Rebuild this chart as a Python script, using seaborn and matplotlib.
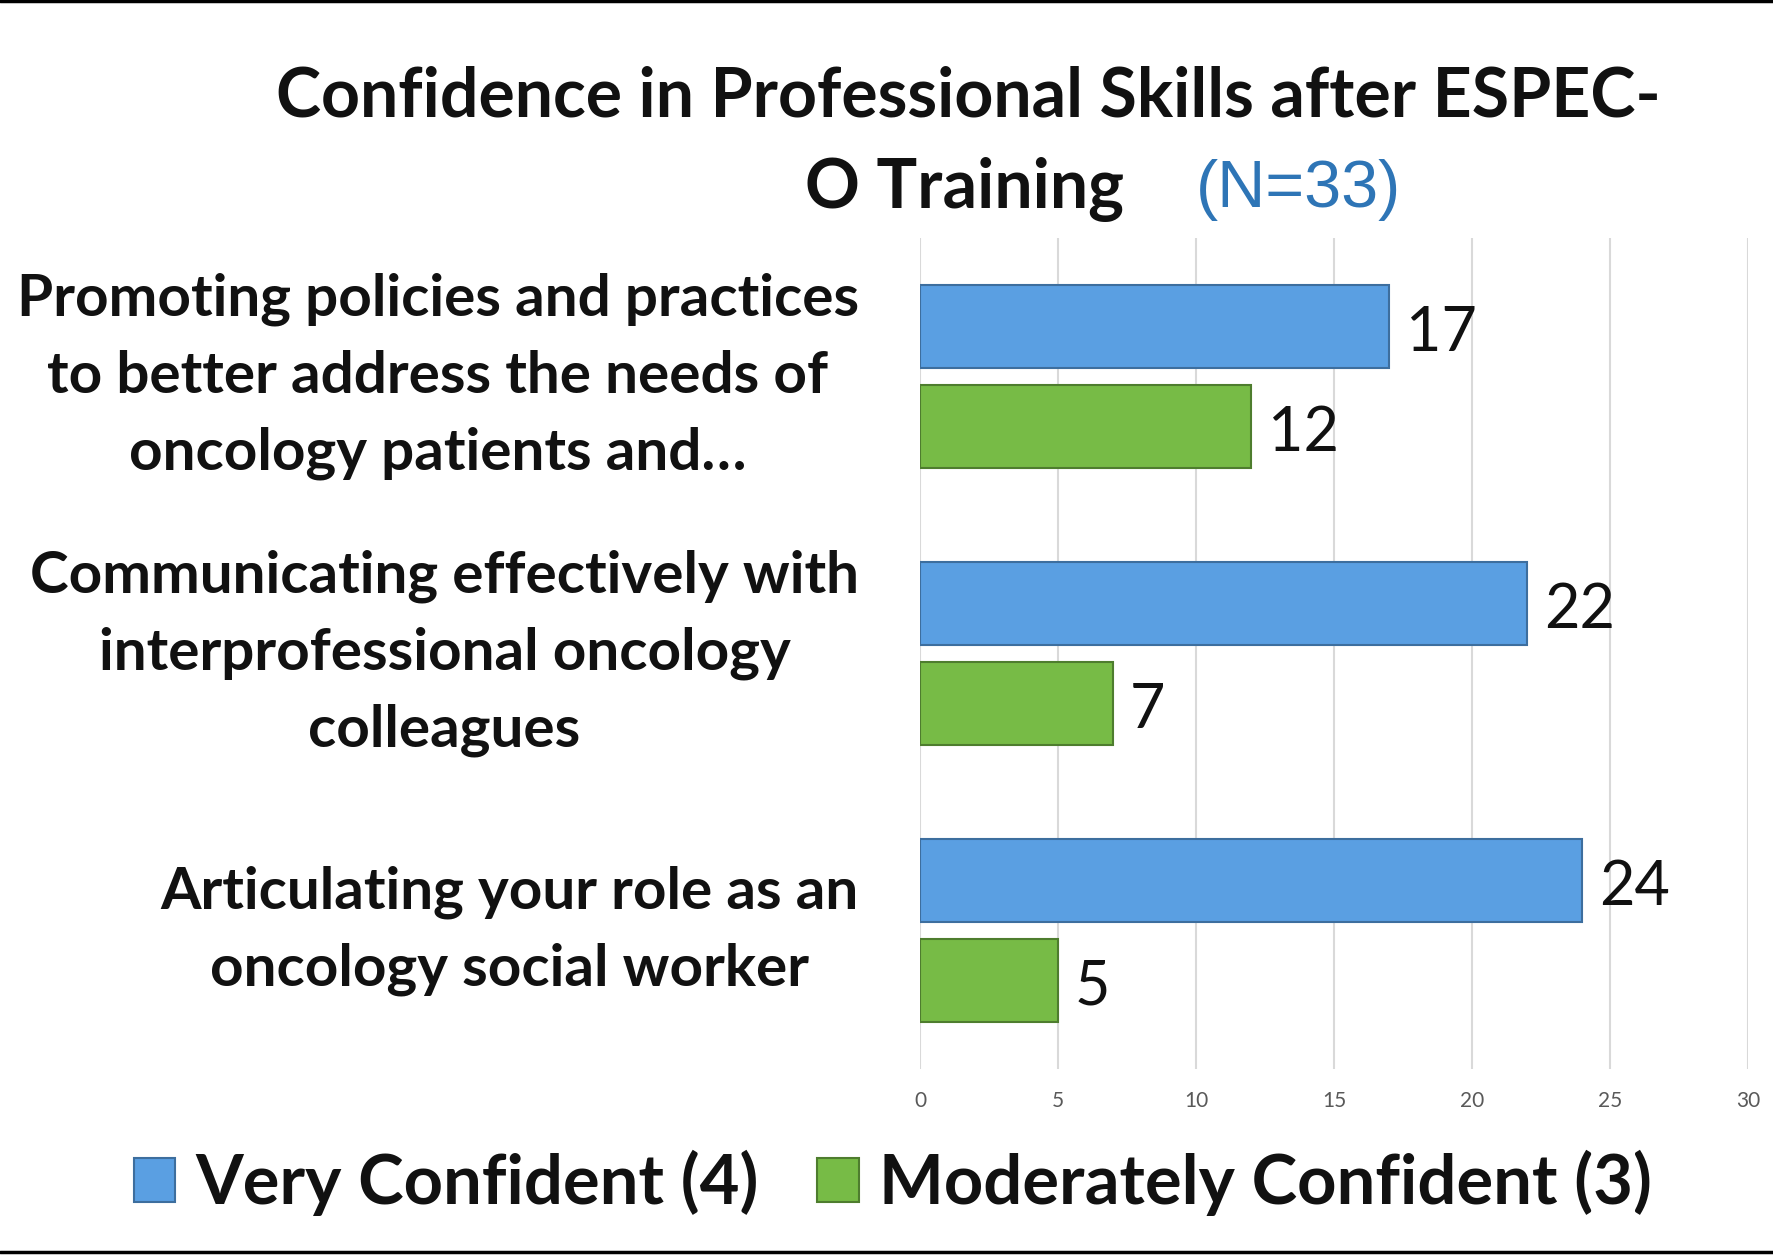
import matplotlib
matplotlib.use("Agg")
import matplotlib.pyplot as plt
import seaborn as sns
import pandas as pd
from matplotlib.lines import Line2D

# data
skills = [
    "Promoting policies and practices\nto better address the needs of\noncology patients and…",
    "Communicating effectively with\ninterprofessional oncology\ncolleagues",
    "Articulating your role as an\noncology social worker",
]
very_confident = [17, 22, 24]
moderately_confident = [12, 7, 5]
series_names = ["Very Confident (4)", "Moderately Confident (3)"]
x_ticks = [0, 5, 10, 15, 20, 25, 30]

BLUE = "#5A9FE2"
GREEN = "#77BB46"
BLUE_EDGE = "#3D6E9E"
GREEN_EDGE = "#4E7D2E"

df = pd.DataFrame({
    "skill": skills * 2,
    "count": very_confident + moderately_confident,
    "level": [series_names[0]] * 3 + [series_names[1]] * 3,
})

sns.set_theme(style="white")
plt.rcParams["font.family"] = ["Lato", "DejaVu Sans"]

W, H = 1774, 1255
fig = plt.figure(figsize=(W / 100, H / 100), dpi=100)
ax = fig.add_axes([920 / W, 1 - 1069 / H, (1748 - 920) / W, (1069 - 238) / H])

sns.barplot(data=df, y="skill", x="count", hue="level", orient="h",
            palette=[BLUE, GREEN], saturation=1, width=0.72, gap=0.17, ax=ax,
            legend=False, zorder=3)

for cont, ec in zip(ax.containers, [BLUE_EDGE, GREEN_EDGE]):
    for bar in cont:
        bar.set_edgecolor(ec)
        bar.set_linewidth(1.5)
    labels = ax.bar_label(cont, padding=12, fontsize=44, color="#111111")
    for t in labels:
        t.xyann = (12, -5)  # nudge down a little, like the original

ax.set_xlim(0, 30)
ax.set_xticks(x_ticks)
ax.set_xlabel("")
ax.set_ylabel("")
ax.grid(axis="x", color="#D9D9D9", linewidth=1.5, zorder=0)
ax.grid(axis="y", visible=False)
for s in ax.spines.values():
    s.set_visible(False)
ax.tick_params(axis="x", length=0, pad=16, labelsize=15, labelcolor="#595959")
ax.tick_params(axis="y", length=0, pad=44)
ax.set_yticks(range(len(skills)))
ax.set_yticklabels(skills, fontsize=42, fontweight="bold", color="#111111",
                   multialignment="center", linespacing=1.55)
for lab in ax.get_yticklabels():
    lab.set_verticalalignment("center")

# title
fig.text(968 / W, 1 - 97 / H, "Confidence in Professional Skills after ESPEC-",
         ha="center", va="center", fontsize=49, fontweight="bold", color="#111111")
fig.text(1124 / W, 1 - 190 / H, "O Training", ha="right", va="center",
         fontsize=49, fontweight="bold", color="#111111")
fig.text(1196 / W, 1 - 190 / H, "(N=33)", ha="left", va="center",
         fontsize=48, color="#2E75B6", family=["Liberation Sans", "DejaVu Sans"])

# legend
handles = [plt.Rectangle((0, 0), 1, 1, facecolor=c, edgecolor=e, linewidth=1.5)
           for c, e in [(BLUE, BLUE_EDGE), (GREEN, GREEN_EDGE)]]
leg = fig.legend(handles, series_names, loc="center", ncol=2,
                 bbox_to_anchor=(893 / W, 1 - 1183 / H), frameon=False,
                 prop={"size": 49.5, "weight": "bold"}, handlelength=0.6,
                 handleheight=0.6, handletextpad=0.3, columnspacing=0.85)
for t in leg.get_texts():
    t.set_color("#111111")

# frame lines at top and bottom
fig.add_artist(Line2D([0, 1], [1 - 1 / H, 1 - 1 / H], color="black", linewidth=2.5))
fig.add_artist(Line2D([0, 1], [3 / H, 3 / H], color="black", linewidth=2.5))

fig.savefig("out.png", dpi=100)
